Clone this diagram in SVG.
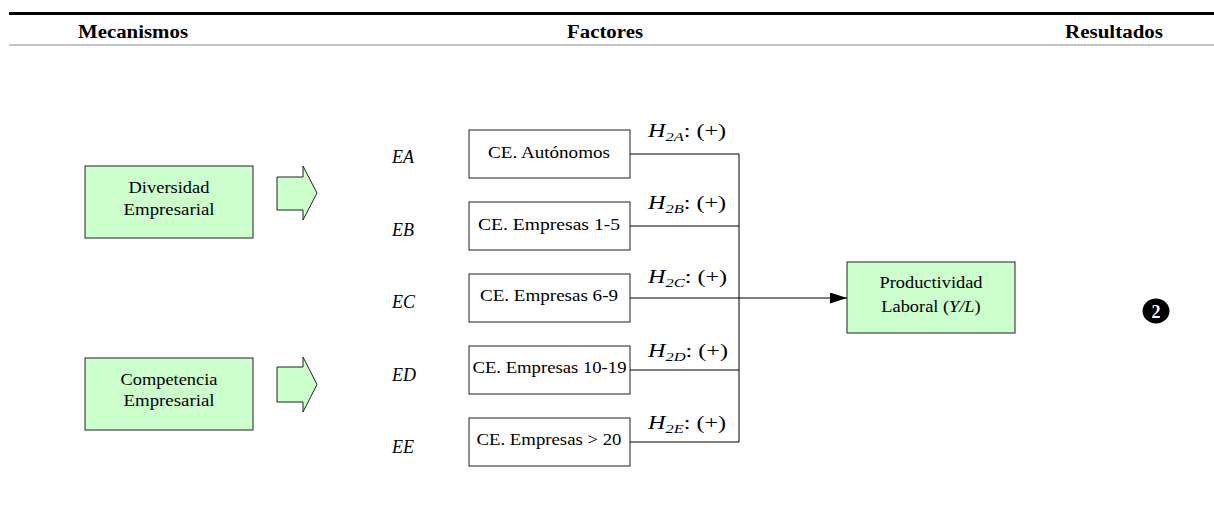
<svg xmlns="http://www.w3.org/2000/svg" width="1214" height="508" viewBox="0 0 1214 508">
<defs>
<style>
text{font-family:"Liberation Serif","Times New Roman",serif;fill:#000}
.hd{font-size:18px;font-weight:bold;text-anchor:middle}
.bx{font-size:17px;text-anchor:middle}
.lb{font-size:18px;font-style:italic}
.h{font-size:19px}
.g{fill:#CCFFCC;stroke:#222;stroke-width:1}
.w{fill:#fff;stroke:#222;stroke-width:1}
.ln{fill:none;stroke:#000;stroke-width:1}
</style>
<marker id="ah" markerWidth="17" markerHeight="11" refX="17" refY="5.5" orient="auto" markerUnits="userSpaceOnUse">
<path d="M0,0 L17,5.5 L0,11 Z" fill="#000"/>
</marker>
</defs>
<rect width="1214" height="508" fill="#fff"/>
<g id="header">
<line x1="9" y1="13.5" x2="1214" y2="13.5" stroke="#000" stroke-width="3"/>
<line x1="9" y1="45" x2="1214" y2="45" stroke="#888" stroke-width="1"/>
<text class="hd" x="133" y="38" textLength="110" lengthAdjust="spacingAndGlyphs">Mecanismos</text>
<text class="hd" x="605" y="38" textLength="76" lengthAdjust="spacingAndGlyphs">Factores</text>
<text class="hd" x="1114" y="38" textLength="98" lengthAdjust="spacingAndGlyphs">Resultados</text>
</g>
<g id="diversidad">
<rect class="g" x="85" y="166" width="168" height="72"/>
<text class="bx" x="169" y="193" textLength="81" lengthAdjust="spacingAndGlyphs">Diversidad</text>
<text class="bx" x="169" y="215" textLength="91" lengthAdjust="spacingAndGlyphs">Empresarial</text>
</g>
<g id="arrow-diversidad">
<path class="g" d="M277,177 H303 V166 L317,193 L303,220 V210 H277 Z"/>
</g>
<g id="competencia">
<rect class="g" x="85" y="358" width="168" height="72"/>
<text class="bx" x="169" y="385" textLength="97" lengthAdjust="spacingAndGlyphs">Competencia</text>
<text class="bx" x="169" y="406" textLength="91" lengthAdjust="spacingAndGlyphs">Empresarial</text>
</g>
<g id="arrow-competencia">
<path class="g" d="M277,367 H303 V357 L317,384.5 L303,412 V402 H277 Z"/>
</g>
<g id="labels">
<text class="lb" x="392" y="163">EA</text>
<text class="lb" x="392" y="236">EB</text>
<text class="lb" x="392" y="308">EC</text>
<text class="lb" x="392" y="381">ED</text>
<text class="lb" x="392" y="453">EE</text>
</g>
<g id="ea">
<rect class="w" x="469" y="130" width="161" height="48"/>
<text class="bx" x="549" y="158" textLength="122" lengthAdjust="spacingAndGlyphs">CE. Autónomos</text>
</g>
<g id="eb">
<rect class="w" x="469" y="202" width="161" height="48"/>
<text class="bx" x="549" y="230" textLength="142" lengthAdjust="spacingAndGlyphs">CE. Empresas 1-5</text>
</g>
<g id="ec">
<rect class="w" x="469" y="274" width="161" height="48"/>
<text class="bx" x="549" y="301" textLength="138" lengthAdjust="spacingAndGlyphs">CE. Empresas 6-9</text>
</g>
<g id="ed">
<rect class="w" x="469" y="346" width="161" height="48"/>
<text class="bx" x="549.5" y="373" textLength="154" lengthAdjust="spacingAndGlyphs">CE. Empresas 10-19</text>
</g>
<g id="ee">
<rect class="w" x="469" y="418" width="161" height="48"/>
<text class="bx" x="549" y="445" textLength="145" lengthAdjust="spacingAndGlyphs">CE. Empresas &gt; 20</text>
</g>
<g id="productividad">
<rect class="g" x="847" y="262" width="168" height="71"/>
<text class="bx" x="931" y="288" textLength="103" lengthAdjust="spacingAndGlyphs">Productividad</text>
<text class="bx" transform="translate(931,312) scale(1.08,1)" x="0" y="0">Laboral (<tspan font-style="italic">Y/L</tspan>)</text>
</g>
<g id="badge">
<ellipse cx="1156" cy="311" rx="13.5" ry="12.5" fill="#000"/>
<text x="1156" y="318" text-anchor="middle" font-size="18" font-weight="bold" style="fill:#fff">2</text>
</g>
<g id="connectors">
<path class="ln" d="M630,154 H739 M630,226 H739 M630,298 H739 M630,370 H739 M630,442 H739 M739,154 V442"/>
<line class="ln" x1="739" y1="298" x2="847" y2="298" marker-end="url(#ah)"/>
</g>
<g id="hypotheses">
<text class="h" transform="translate(648,137) scale(1.27,1)"><tspan font-style="italic">H</tspan><tspan font-style="italic" font-size="13" dy="4">2A</tspan><tspan dy="-4">: (+)</tspan></text>
<text class="h" transform="translate(648,209) scale(1.27,1)"><tspan font-style="italic">H</tspan><tspan font-style="italic" font-size="13" dy="4">2B</tspan><tspan dy="-4">: (+)</tspan></text>
<text class="h" transform="translate(648,283) scale(1.27,1)"><tspan font-style="italic">H</tspan><tspan font-style="italic" font-size="13" dy="4">2C</tspan><tspan dy="-4">: (+)</tspan></text>
<text class="h" transform="translate(648,357) scale(1.27,1)"><tspan font-style="italic">H</tspan><tspan font-style="italic" font-size="13" dy="4">2D</tspan><tspan dy="-4">: (+)</tspan></text>
<text class="h" transform="translate(648,429) scale(1.27,1)"><tspan font-style="italic">H</tspan><tspan font-style="italic" font-size="13" dy="4">2E</tspan><tspan dy="-4">: (+)</tspan></text>
</g>
</svg>
